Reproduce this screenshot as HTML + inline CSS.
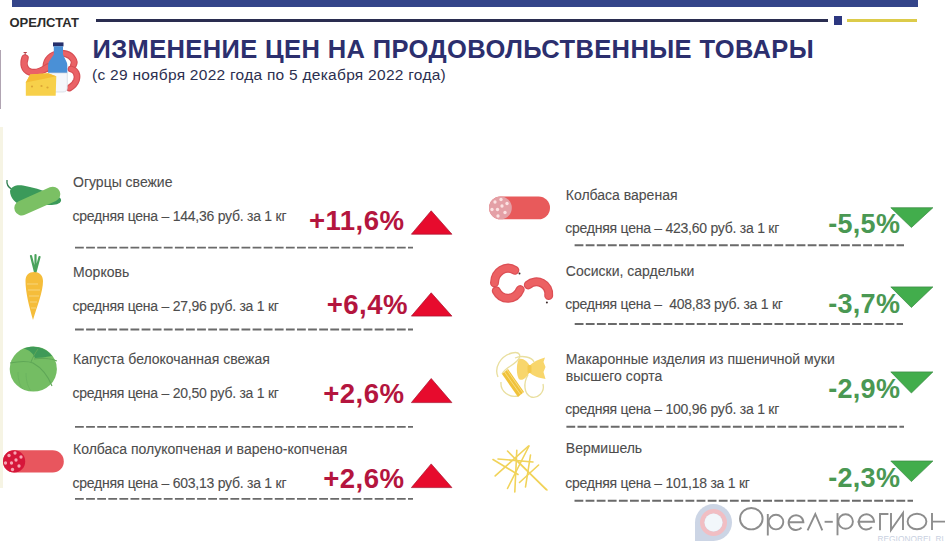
<!DOCTYPE html>
<html><head><meta charset="utf-8"><style>
html,body{margin:0;padding:0;}
body{width:945px;height:541px;position:relative;overflow:hidden;background:#fff;font-family:"Liberation Sans",sans-serif;}
.t{position:absolute;line-height:1;white-space:nowrap;}
.lb{-webkit-text-stroke:0.1px #4d4d4d;}
.dash{position:absolute;height:2px;background:repeating-linear-gradient(90deg,#626262 0 8.5px,transparent 8.5px 11.05px);}
</style></head><body>
<div style="position:absolute;left:0;top:50px;width:1.3px;height:59px;background:#b0a4b2"></div>
<div style="position:absolute;left:0;top:127px;width:3px;height:361px;background:#f6f4e4"></div>
<div style="position:absolute;left:12px;top:0;width:906px;height:7px;background:#34458a"></div>
<div class="t " style="left:9.50px;top:15.90px;font-size:13px;color:#2b2b2b;font-weight:bold;">ОРЕЛСТАТ</div>
<div style="position:absolute;left:96px;top:19px;width:732px;height:3px;background:#2a2d50"></div>
<div style="position:absolute;left:834px;top:16px;width:8px;height:8.5px;background:#2c3780"></div>
<div style="position:absolute;left:847px;top:19.3px;width:70px;height:2.6px;background:#dccb4a"></div>
<div class="t " style="left:92.50px;top:36.61px;font-size:25.5px;color:#2c2f6e;font-weight:bold;letter-spacing:0.38px;">ИЗМЕНЕНИЕ ЦЕН НА ПРОДОВОЛЬСТВЕННЫЕ ТОВАРЫ</div>
<div class="t " style="left:92.00px;top:66.68px;font-size:15.5px;color:#2c2f50;font-weight:normal;letter-spacing:0.27px;">(с 29 ноября 2022 года по 5 декабря 2022 года)</div>
<div class="t lb" style="left:73.00px;top:175.15px;font-size:14px;color:#4d4d4d;font-weight:normal;letter-spacing:0px;">Огурцы свежие</div>
<div class="t lb" style="left:72.50px;top:209.15px;font-size:14px;color:#4d4d4d;font-weight:normal;letter-spacing:-0.25px;">средняя цена – 144,36 руб. за 1 кг</div>
<div class="t" style="right:540.50px;top:206.94px;font-size:27.6px;color:#b4153e;font-weight:bold;letter-spacing:0.45px;">+11,6%</div>
<svg style="position:absolute;left:0;top:0" width="945" height="541"><polygon points="411.4,234.2 431.2,210.8 451.9,234.2" fill="#e70b2d" stroke="#a8122e" stroke-width="0.7" stroke-linejoin="round"/></svg>
<svg style="position:absolute;left:0;top:0" width="945" height="541"><line x1="75" y1="247.6" x2="413" y2="247.6" stroke="#6a6a6a" stroke-width="1.9" stroke-dasharray="8.8 2.3"/></svg>
<div class="t lb" style="left:73.00px;top:265.15px;font-size:14px;color:#4d4d4d;font-weight:normal;letter-spacing:0px;">Морковь</div>
<div class="t lb" style="left:72.50px;top:298.65px;font-size:14px;color:#4d4d4d;font-weight:normal;letter-spacing:-0.25px;">средняя цена – 27,96 руб. за 1 кг</div>
<div class="t" style="right:537.00px;top:290.89px;font-size:27.6px;color:#b4153e;font-weight:bold;letter-spacing:0.45px;">+6,4%</div>
<svg style="position:absolute;left:0;top:0" width="945" height="541"><polygon points="411.4,316.1 431.2,292.8 451.9,316.1" fill="#e70b2d" stroke="#a8122e" stroke-width="0.7" stroke-linejoin="round"/></svg>
<svg style="position:absolute;left:0;top:0" width="945" height="541"><line x1="75" y1="329.5" x2="413" y2="329.5" stroke="#6a6a6a" stroke-width="1.9" stroke-dasharray="8.8 2.3"/></svg>
<div class="t lb" style="left:73.00px;top:351.65px;font-size:14px;color:#4d4d4d;font-weight:normal;letter-spacing:0px;">Капуста белокочанная свежая</div>
<div class="t lb" style="left:72.50px;top:386.25px;font-size:14px;color:#4d4d4d;font-weight:normal;letter-spacing:-0.25px;">средняя цена – 20,50 руб. за 1 кг</div>
<div class="t" style="right:540.50px;top:380.29px;font-size:27.6px;color:#b4153e;font-weight:bold;letter-spacing:0.45px;">+2,6%</div>
<svg style="position:absolute;left:0;top:0" width="945" height="541"><polygon points="411.4,402.6 431.2,378.5 451.9,402.6" fill="#e70b2d" stroke="#a8122e" stroke-width="0.7" stroke-linejoin="round"/></svg>
<svg style="position:absolute;left:0;top:0" width="945" height="541"><line x1="75" y1="426.9" x2="413" y2="426.9" stroke="#6a6a6a" stroke-width="1.9" stroke-dasharray="8.8 2.3"/></svg>
<div class="t lb" style="left:73.00px;top:441.85px;font-size:14px;color:#4d4d4d;font-weight:normal;letter-spacing:0px;">Колбаса полукопченая и варено-копченая</div>
<div class="t lb" style="left:72.50px;top:476.25px;font-size:14px;color:#4d4d4d;font-weight:normal;letter-spacing:-0.25px;">средняя цена – 603,13 руб. за 1 кг</div>
<div class="t" style="right:540.50px;top:464.84px;font-size:27.6px;color:#b4153e;font-weight:bold;letter-spacing:0.45px;">+2,6%</div>
<svg style="position:absolute;left:0;top:0" width="945" height="541"><polygon points="411.4,487.6 431.2,463.9 451.9,487.6" fill="#e70b2d" stroke="#a8122e" stroke-width="0.7" stroke-linejoin="round"/></svg>
<svg style="position:absolute;left:0;top:0" width="945" height="541"><line x1="75" y1="498.9" x2="413" y2="498.9" stroke="#6a6a6a" stroke-width="1.9" stroke-dasharray="8.8 2.3"/></svg>
<div class="t lb" style="left:565.80px;top:187.95px;font-size:14px;color:#4d4d4d;font-weight:normal;letter-spacing:0px;">Колбаса вареная</div>
<div class="t lb" style="left:565.30px;top:220.75px;font-size:14px;color:#4d4d4d;font-weight:normal;letter-spacing:-0.25px;">средняя цена – 423,60 руб. за 1 кг</div>
<svg style="position:absolute;left:0;top:0" width="945" height="541"><polygon points="890.8,207.7 932.9,207.7 911.4,227.5" fill="#42ad4c" stroke="#3b8a44" stroke-width="0.7" stroke-linejoin="round"/></svg>
<div class="t " style="left:828.20px;top:210.84px;font-size:27px;color:#4a9853;font-weight:bold;letter-spacing:0.3px;">-5,5%</div>
<svg style="position:absolute;left:0;top:0" width="945" height="541"><line x1="574.6" y1="245.3" x2="904" y2="245.3" stroke="#6a6a6a" stroke-width="1.9" stroke-dasharray="8.8 2.3"/></svg>
<div class="t lb" style="left:565.80px;top:264.05px;font-size:14px;color:#4d4d4d;font-weight:normal;letter-spacing:0px;">Сосиски, сардельки</div>
<div class="t lb" style="left:565.30px;top:297.35px;font-size:14px;color:#4d4d4d;font-weight:normal;letter-spacing:-0.25px;">средняя цена –&nbsp; 408,83 руб. за 1 кг</div>
<svg style="position:absolute;left:0;top:0" width="945" height="541"><polygon points="890.8,286.9 932.9,286.9 911.4,307.5" fill="#42ad4c" stroke="#3b8a44" stroke-width="0.7" stroke-linejoin="round"/></svg>
<div class="t " style="left:828.20px;top:291.14px;font-size:27px;color:#4a9853;font-weight:bold;letter-spacing:0.3px;">-3,7%</div>
<svg style="position:absolute;left:0;top:0" width="945" height="541"><line x1="574.7" y1="324.0" x2="903" y2="324.0" stroke="#6a6a6a" stroke-width="1.9" stroke-dasharray="8.8 2.3"/></svg>
<div class="t lb" style="left:565.80px;top:352.05px;font-size:14px;color:#4d4d4d;font-weight:normal;letter-spacing:0px;">Макаронные изделия из пшеничной муки</div>
<div class="t lb" style="left:565.80px;top:368.75px;font-size:14px;color:#4d4d4d;font-weight:normal;letter-spacing:0px;">высшего сорта</div>
<div class="t lb" style="left:565.30px;top:401.55px;font-size:14px;color:#4d4d4d;font-weight:normal;letter-spacing:-0.25px;">средняя цена – 100,96 руб. за 1 кг</div>
<svg style="position:absolute;left:0;top:0" width="945" height="541"><polygon points="890.8,371.9 932.9,371.9 911.4,393" fill="#42ad4c" stroke="#3b8a44" stroke-width="0.7" stroke-linejoin="round"/></svg>
<div class="t " style="left:828.20px;top:376.14px;font-size:27px;color:#4a9853;font-weight:bold;letter-spacing:0.3px;">-2,9%</div>
<svg style="position:absolute;left:0;top:0" width="945" height="541"><line x1="566.4" y1="426.7" x2="904" y2="426.7" stroke="#6a6a6a" stroke-width="1.9" stroke-dasharray="8.8 2.3"/></svg>
<div class="t lb" style="left:565.80px;top:441.35px;font-size:14px;color:#4d4d4d;font-weight:normal;letter-spacing:0px;">Вермишель</div>
<div class="t lb" style="left:565.30px;top:475.75px;font-size:14px;color:#4d4d4d;font-weight:normal;letter-spacing:-0.25px;">средняя цена – 101,18 за 1 кг</div>
<svg style="position:absolute;left:0;top:0" width="945" height="541"><polygon points="890.8,461 932.9,461 911.4,481.6" fill="#42ad4c" stroke="#3b8a44" stroke-width="0.7" stroke-linejoin="round"/></svg>
<div class="t " style="left:828.20px;top:465.34px;font-size:27px;color:#4a9853;font-weight:bold;letter-spacing:0.3px;">-2,3%</div>
<svg style="position:absolute;left:0;top:0" width="945" height="541"><line x1="574.5" y1="500.7" x2="913" y2="500.7" stroke="#6a6a6a" stroke-width="1.9" stroke-dasharray="8.8 2.3"/></svg>
<svg style="position:absolute;left:0;top:0" width="945" height="541">
<!-- header food icon -->
<g>
 <g fill="none" stroke-linecap="round">
 <path d="M46,69 C45,62 49,56 56,54 C63,52 70,54 73,59 C74.5,61 74.5,63 73.5,65" stroke="#d64d53" stroke-width="6.8"/>
 <path d="M46,69 C45,62 49,56 56,54 C63,52 70,54 73,59 C74.5,61 74.5,63 73.5,65" stroke="#ea6266" stroke-width="4.6"/>
 <path d="M71,69 C76,70 78,75 76.5,80 C75.5,83 73,86 69.5,88" stroke="#d64d53" stroke-width="6.8"/>
 <path d="M71,69 C76,70 78,75 76.5,80 C75.5,83 73,86 69.5,88" stroke="#ea6266" stroke-width="4.6"/>
 </g>
 <path d="M25,58 C23,64 24,70 30,72 C36,74 42,71 48,67" fill="none" stroke="#d64d53" stroke-width="7.5" stroke-linecap="round"/><path d="M25,58 C23,64 24,70 30,72 C36,74 42,71 48,67" fill="none" stroke="#ea6266" stroke-width="5.3" stroke-linecap="round"/>
 <path d="M25.2,55 L25.2,52.5 M23.6,52.5 L26.8,52.5" stroke="#b54047" stroke-width="1"/>
 <rect x="53" y="42.4" width="10.5" height="4" fill="#252f6b"/>
 <path d="M53.8,46.3 L63,46.3 L63,54.5 L66.6,62 C67,63 67.3,64 67.3,65 L67.3,73 L48.1,73 L48.1,65 C48.1,64 48.4,63 48.8,62 L53.8,54.5 Z" fill="#4a90d6"/>
 <path d="M48.1,73 L67.3,73 L67.3,88 C67.3,90.5 65.5,92 63,92 L52,92 C49.5,92 48.1,90.5 48.1,88 Z" fill="#f5f7fb" stroke="#cfd5e0" stroke-width="0.7"/>
 <path d="M25.8,82.4 L30.2,74.6 L48,73.2 L56.3,76.3 L55.7,95.7 L25.8,95.7 Z" fill="#f7d04a"/>
 <path d="M25.8,82.4 L30.2,74.6 L48,73.2 L56.3,76.3 Z" fill="#f4bd34"/>
 <circle cx="32" cy="86.5" r="1.1" fill="#dca536"/><circle cx="41.5" cy="86" r="1.1" fill="#dca536"/><circle cx="47.5" cy="87.5" r="1.1" fill="#dca536"/>
</g>
<!-- cucumber -->
<g>
 <path d="M7,180 C6.5,184 8,187 11.5,189" fill="none" stroke="#2f7d4e" stroke-width="1.3"/>
 <path d="M10,191 C11,186 17,184.5 23,185.5 C32,187 42,190 52,194 C58,196 62,198 61,201 C60,204 55,205 50,205 L22,205 C16,204 10,198 10,191 Z" fill="#3b9a5a"/>
 <rect x="12.8" y="193.6" width="49" height="15" rx="7.5" ry="7.5" transform="rotate(-24 37.3 201.1)" fill="#7bc064"/>
</g>
<!-- carrot -->
<g>
 <path d="M31,256 L35,272 M35.5,255 L35.5,272 M39.5,257 L35.5,272" stroke="#4aa35c" stroke-width="2.2" stroke-linecap="round"/>
 <path d="M25.5,281 C25.5,275 29,272 34,272 C39,272 43,275 43,281 C43,292 37,306 33,320 C29,306 25.5,292 25.5,281 Z" fill="#f5bd3a"/>
 <path d="M27,284 L38,284 M28,290 L40,290 M29,296 L39,296 M30,302 L37,302 M31,308 L36,308" stroke="#f8d57c" stroke-width="1.2"/>
</g>
<!-- cabbage -->
<g>
 <ellipse cx="33.3" cy="369" rx="23.6" ry="22.6" fill="#74bd63"/>
 <path d="M24,348.5 C32,345 45,346 52,356 C45,357 40,358 35,358 C33,353 29,350 24,348.5 Z" fill="#3f9a58"/>
 <path d="M10,363 C20,361 28,361 33,363 C42,368 48,376 52,386" fill="none" stroke="#5fa757" stroke-width="1.1"/>
 <path d="M31,362 C33,357 35,353 38,349 M34,359 C42,358 50,358 57,361" fill="none" stroke="#5fa757" stroke-width="1"/>
 <path d="M18,372 C18,380 20,386 23,389 M26,373 C26,381 28,387 31,391" fill="none" stroke="#6ab35e" stroke-width="0.8"/>
</g>
<!-- salami -->
<g>
 <rect x="3" y="450.3" width="60.8" height="22.2" rx="11.1" fill="#e8565e"/>
 <circle cx="14.1" cy="461.4" r="11.1" fill="#d6173a"/>
 <g fill="#f6a6b4">
  <circle cx="15" cy="453" r="1.65"/><circle cx="9" cy="455.5" r="1.65"/><circle cx="21" cy="457" r="1.65"/><circle cx="16" cy="460" r="1.65"/>
  <circle cx="5.5" cy="463" r="1.65"/><circle cx="11.5" cy="463" r="1.65"/><circle cx="19" cy="466" r="1.65"/><circle cx="12.5" cy="469.5" r="1.65"/>
 </g>
</g>
<!-- boiled sausage -->
<g>
 <rect x="489.1" y="196.5" width="60.9" height="22.8" rx="11.4" fill="#e85a5b"/>
 <circle cx="500.4" cy="207.9" r="11.4" fill="#e4a0a6"/>
 <g fill="#fbe2e2">
  <circle cx="501" cy="199.5" r="1.65"/><circle cx="495" cy="202" r="1.65"/><circle cx="507" cy="203.5" r="1.65"/><circle cx="502" cy="206" r="1.65"/>
  <circle cx="492" cy="209.5" r="1.65"/><circle cx="497.5" cy="209.5" r="1.65"/><circle cx="505" cy="212.5" r="1.65"/><circle cx="498" cy="216" r="1.65"/>
 </g>
</g>
<!-- sausages S -->
<g fill="none" stroke-linecap="round">
 <path d="M514.8,270.3 A13.5,15 0 0 0 494.5,282.8" stroke="#dc4f55" stroke-width="9"/><path d="M514.8,270.3 A13.5,15 0 0 0 494.5,282.8" stroke="#ec6163" stroke-width="6.5"/>
 <path d="M496.3,290.8 A13.5,15 0 0 0 520.2,289.6" stroke="#dc4f55" stroke-width="9"/><path d="M496.3,290.8 A13.5,15 0 0 0 520.2,289.6" stroke="#ec6163" stroke-width="6.5"/>
 <path d="M528.3,284.9 A12.3,12.3 0 0 1 548.7,295.5" stroke="#dc4f55" stroke-width="9"/><path d="M528.3,284.9 A12.3,12.3 0 0 1 548.7,295.5" stroke="#ec6163" stroke-width="6.5"/>
</g>
<circle cx="519.5" cy="273.6" r="1" fill="#3a2a2a"/><circle cx="546.9" cy="302.4" r="1" fill="#3a2a2a"/>
<!-- pasta -->
<g>
 <path d="M498,377 C494,368 500,356 512,353 C520,351 522,356 517,361 C512,366 505,368 502,374" fill="none" stroke="#e9df9f" stroke-width="1.35"/>
 <path d="M501,382 C500,392 510,398 518,396" fill="none" stroke="#e9df9f" stroke-width="1.35"/>
 <path d="M528,375 C523,383 524,394 531,397 C538,399 545,392 543,384" fill="none" stroke="#e9df9f" stroke-width="1.35"/>
 <path d="M515,358 C522,355 532,357 534,362" fill="none" stroke="#e9df9f" stroke-width="1.35"/>
 <path d="M530,366 C527,361 523,358 519.5,359 C516,361 516,377 519.5,379.5 C523,381 527,377 530,372 Z" fill="#f8d66c"/>
 <path d="M529,366 C533,362 539,359 545,357.5 L543.5,362 L545.5,367 L543.5,372 L545.5,379 C539,378 533,376 529,372 Z" fill="#f8d66c"/>
 <rect x="527.5" y="365" width="4" height="8" rx="1.5" fill="#f3c94e"/>
 <path d="M502,374 L508,369 L524,392 L518,397 Z" fill="#f0c23a"/>
 <path d="M504.5,372 L520.5,394.5 M507,370 L523,393" stroke="#f8dd80" stroke-width="1"/>
</g>
<!-- vermicelli -->
<g stroke="#f1d35a" stroke-width="1.6" stroke-linecap="round">
 <path d="M495.2,475.9 L528.5,446"/>
 <path d="M493,459.5 L518,474.5"/>
 <path d="M507.5,451 L546,489.5"/>
 <path d="M516.8,450.2 L514.8,492"/>
 <path d="M529,446 L507.5,488.5"/>
 <path d="M530.5,455 L525.5,487"/>
 <path d="M498,459 L533,462"/>
 <path d="M538.6,465 L519.5,482.5"/>
 <path d="M518,462 L547,490"/>
</g>
</svg>
<svg style="position:absolute;left:0;top:0" width="945" height="541">
<path d="M695,541 L695,522.5 A18.5,18.5 0 1 1 713.5,541 Z" fill="#ccd5e5"/>
<circle cx="713.5" cy="522.5" r="11.3" fill="none" stroke="#f1bec3" stroke-width="4.4"/>
<circle cx="713.5" cy="522.5" r="9" fill="#f2f7fb"/>
</svg>
<svg style="position:absolute;left:0;top:0" width="945" height="541">
<g fill="none" stroke="#8d8d8d" stroke-width="1.9">
 <ellipse cx="751.3" cy="518.7" rx="11.3" ry="10.7"/>
 <path d="M767.8,514 L767.8,535.5"/><circle cx="776" cy="522.1" r="7.3"/>
 <path d="M788.2,522.3 L803.4,522.3 A7.4,7.4 0 1 0 801.5,527.6"/>
 <path d="M807.6,530.3 L815.3,514 L822.3,530.3"/>
 <path d="M824.6,521.8 L832.8,521.8"/>
 <path d="M837.5,513.1 L837.5,535.3"/><circle cx="845.6" cy="521.5" r="7.3"/>
 <path d="M857.5,521.7 L874,521.7 A7.6,7.6 0 1 0 871.9,527.2"/>
 <path d="M880,530.2 L880,514 L888.4,514"/>
 <path d="M891,513 L891,530 L903,513 L903,530"/>
 <ellipse cx="917" cy="521.5" rx="9.4" ry="7.8"/>
 <path d="M932,513 L932,530 M932,521.6 L946,521.6"/>
</g>
<text x="877.5" y="541.5" font-family="Liberation Sans" font-size="9.5" fill="#c9d1e1" textLength="70" lengthAdjust="spacingAndGlyphs">REGIONOREL.RU</text>
</svg>
</body></html>
